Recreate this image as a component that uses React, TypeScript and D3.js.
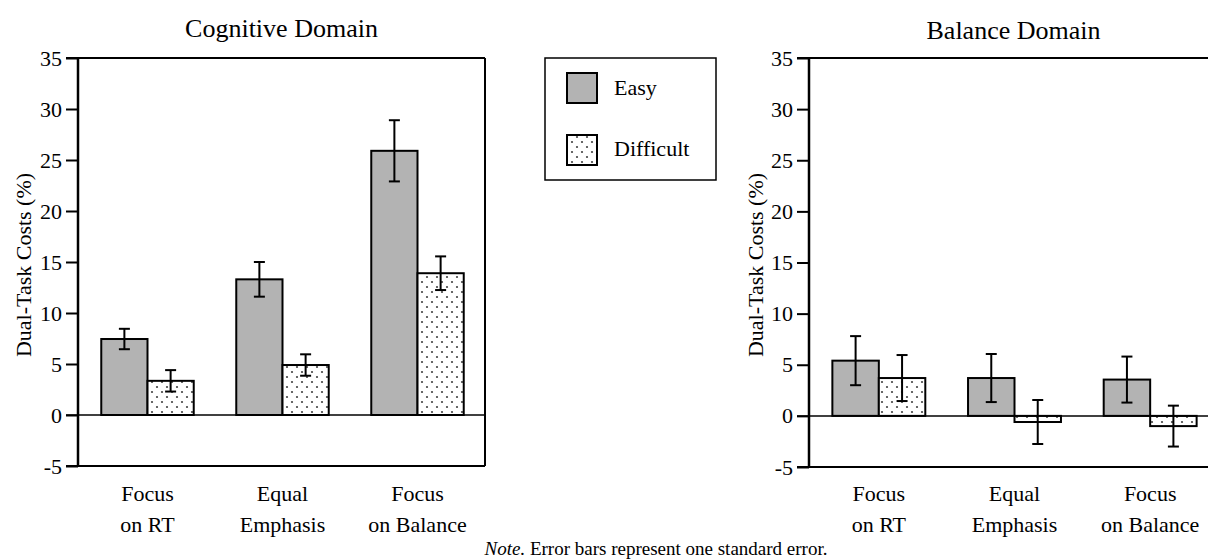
import { useEffect, useRef } from 'react';
import * as d3 from 'd3';

const categories = ['Focus on RT', 'Equal Emphasis', 'Focus on Balance'];
const categoryLines = [['Focus', 'on RT'], ['Equal', 'Emphasis'], ['Focus', 'on Balance']];
const seriesNames = ['Easy', 'Difficult'];
const yTicks = [-5, 0, 5, 10, 15, 20, 25, 30, 35];

// Cognitive domain
const cogEasy = [7.45, 13.3, 25.9];
const cogEasySE = [1.0, 1.7, 3.0];
const cogDifficult = [3.35, 4.9, 13.9];
const cogDifficultSE = [1.05, 1.05, 1.65];

// Balance domain
const balEasy = [5.4, 3.7, 3.55];
const balEasySE = [2.4, 2.35, 2.25];
const balDifficult = [3.7, -0.6, -1.0];
const balDifficultSE = [2.25, 2.15, 2.0];

interface Bar {
  cat: string;
  series: string;
  value: number;
  se: number;
}

const FONT = "'Liberation Serif', 'Times New Roman', Times, serif";

const App = () => {
  const ref = useRef<SVGSVGElement>(null);

  useEffect(() => {
    const svg = d3.select(ref.current);
    svg.selectAll('*').remove();

    const defs = svg.append('defs');
    const pat = defs.append('pattern')
      .attr('id', 'dots')
      .attr('patternUnits', 'userSpaceOnUse')
      .attr('width', 10)
      .attr('height', 10);
    pat.append('rect').attr('width', 10).attr('height', 10).attr('fill', '#fff');
    pat.append('circle').attr('cx', 2).attr('cy', 2).attr('r', 1.1).attr('fill', '#444');
    pat.append('circle').attr('cx', 7).attr('cy', 7).attr('r', 1.1).attr('fill', '#444');

    const fills: Record<string, string> = { Easy: '#b3b3b3', Difficult: 'url(#dots)' };

    function panel(opts: {
      left: number; right: number; top: number; bottom: number;
      title: string; titleY: number; labelX: number;
      easy: number[]; easySE: number[]; diff: number[]; diffSE: number[];
      rightBorder: boolean;
    }) {
      const g = svg.append('g');
      const y = d3.scaleLinear().domain([-5, 35]).range([opts.bottom, opts.top]);
      const x = d3.scaleBand<string>()
        .domain(categories)
        .range([opts.left + 2, opts.right])
        .paddingInner(0.315)
        .paddingOuter(0.1575);
      const xs = d3.scaleBand<string>().domain(seriesNames).range([0, x.bandwidth()]);

      const data: Bar[] = [];
      categories.forEach((c, i) => {
        data.push({ cat: c, series: 'Easy', value: opts.easy[i], se: opts.easySE[i] });
        data.push({ cat: c, series: 'Difficult', value: opts.diff[i], se: opts.diffSE[i] });
      });

      // bars
      g.selectAll('.bar')
        .data(data)
        .enter()
        .append('rect')
        .attr('x', d => (x(d.cat) as number) + (xs(d.series) as number))
        .attr('y', d => y(Math.max(0, d.value)))
        .attr('width', xs.bandwidth())
        .attr('height', d => Math.abs(y(d.value) - y(0)))
        .attr('fill', d => fills[d.series])
        .attr('stroke', '#000')
        .attr('stroke-width', 2);

      // zero line
      g.append('line')
        .attr('x1', opts.left - 12).attr('x2', opts.right)
        .attr('y1', y(0)).attr('y2', y(0))
        .attr('stroke', '#000').attr('stroke-width', 1.5);

      // error bars
      const eb = g.selectAll('.err').data(data).enter().append('g');
      const cx = (d: Bar) => (x(d.cat) as number) + (xs(d.series) as number) + xs.bandwidth() / 2;
      eb.append('line')
        .attr('x1', cx).attr('x2', cx)
        .attr('y1', d => y(d.value - d.se)).attr('y2', d => y(d.value + d.se))
        .attr('stroke', '#000').attr('stroke-width', 2);
      [-1, 1].forEach(s => {
        eb.append('line')
          .attr('x1', d => cx(d) - 5.5).attr('x2', d => cx(d) + 5.5)
          .attr('y1', d => y(d.value + s * d.se)).attr('y2', d => y(d.value + s * d.se))
          .attr('stroke', '#000').attr('stroke-width', 2);
      });

      // frame
      g.append('line')
        .attr('x1', opts.left - 12).attr('x2', opts.right)
        .attr('y1', y(35)).attr('y2', y(35))
        .attr('stroke', '#000').attr('stroke-width', 2);
      g.append('line')
        .attr('x1', opts.left - 12).attr('x2', opts.right)
        .attr('y1', y(-5)).attr('y2', y(-5))
        .attr('stroke', '#000').attr('stroke-width', 2);
      if (opts.rightBorder) {
        g.append('line')
          .attr('x1', opts.right).attr('x2', opts.right)
          .attr('y1', y(35)).attr('y2', y(-5))
          .attr('stroke', '#000').attr('stroke-width', 2);
      }

      // y axis
      const axis = g.append('g')
        .attr('transform', `translate(${opts.left},0)`)
        .call(d3.axisLeft(y).tickValues(yTicks).tickSize(12).tickPadding(4).tickFormat(d => String(d)));
      axis.attr('font-family', null).attr('font-size', null);
      axis.select('.domain').attr('stroke-width', 2.5).attr('d', `M0,${y(35)}V${y(-5)}`);
      axis.selectAll('.tick line').attr('stroke-width', 2);
      axis.selectAll('.tick text')
        .style('font-family', FONT)
        .style('font-size', '22px')
        .attr('fill', '#000');

      // y label
      g.append('text')
        .attr('transform', `translate(${opts.labelX},265) rotate(-90)`)
        .attr('text-anchor', 'middle')
        .style('font-family', FONT)
        .style('font-size', '22px')
        .text('Dual-Task Costs (%)');

      // category labels
      categories.forEach((c, i) => {
        const cxCat = (x(c) as number) + x.bandwidth() / 2;
        const t = g.append('text')
          .attr('x', cxCat)
          .attr('y', 501)
          .attr('text-anchor', 'middle')
          .style('font-family', FONT)
          .style('font-size', '22px');
        categoryLines[i].forEach((ln, j) => {
          t.append('tspan')
            .attr('x', cxCat)
            .attr('dy', j === 0 ? 0 : 31)
            .text(ln);
        });
      });

      // title
      g.append('text')
        .attr('x', (opts.left + opts.right) / 2)
        .attr('y', opts.titleY)
        .attr('text-anchor', 'middle')
        .style('font-family', FONT)
        .style('font-size', '26px')
        .text(opts.title);
    }

    panel({
      left: 78, right: 485, top: 58, bottom: 466,
      title: 'Cognitive Domain', titleY: 37, labelX: 31,
      easy: cogEasy, easySE: cogEasySE, diff: cogDifficult, diffSE: cogDifficultSE,
      rightBorder: true,
    });
    panel({
      left: 809, right: 1218, top: 58, bottom: 467,
      title: 'Balance Domain', titleY: 39, labelX: 763,
      easy: balEasy, easySE: balEasySE, diff: balDifficult, diffSE: balDifficultSE,
      rightBorder: false,
    });

    // legend
    const lg = svg.append('g');
    lg.append('rect')
      .attr('x', 545).attr('y', 58).attr('width', 171).attr('height', 122)
      .attr('fill', '#fff').attr('stroke', '#000').attr('stroke-width', 1.5);
    seriesNames.forEach((s, i) => {
      lg.append('rect')
        .attr('x', 567).attr('y', 73 + i * 62).attr('width', 30).attr('height', 30)
        .attr('fill', fills[s]).attr('stroke', '#000').attr('stroke-width', 2);
      lg.append('text')
        .attr('x', 614).attr('y', 95 + i * 61)
        .style('font-family', FONT).style('font-size', '22px')
        .text(s);
    });

    // note
    const note = svg.append('text')
      .attr('x', 656).attr('y', 555)
      .attr('text-anchor', 'middle')
      .style('font-family', FONT)
      .style('font-size', '19px');
    note.append('tspan').style('font-style', 'italic').text('Note.');
    note.append('tspan').text(' Error bars represent one standard error.');
  }, []);

  return (
    <svg
      ref={ref}
      width={1208}
      height={559}
      style={{ position: 'absolute', left: 0, top: 0, background: '#fff' }}
    />
  );
};

export default App;
